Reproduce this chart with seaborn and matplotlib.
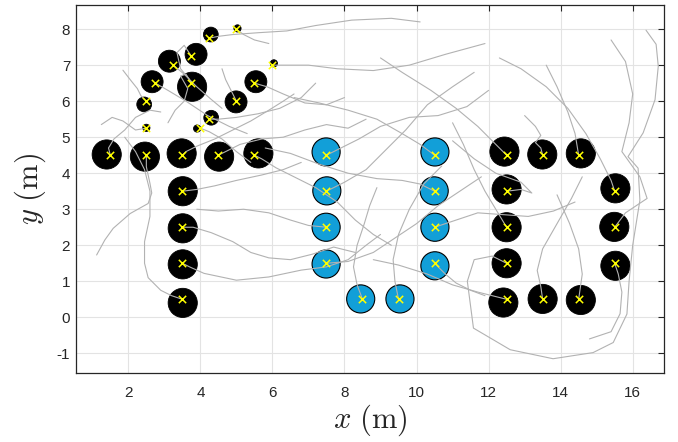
import numpy as np
import pandas as pd
import seaborn as sns
import matplotlib.pyplot as plt

# targets (yellow crosses)
target_x = [1.5, 2.5, 3.5, 4.5, 5.5, 3.5, 3.5, 3.5, 3.5,
            4.25, 5.0, 3.75, 3.25, 6.0, 2.75, 3.75, 5.5, 2.5, 5.0, 4.25, 2.5, 4.0,
            7.5, 7.5, 7.5, 7.5, 8.5, 9.5, 10.5, 10.5, 10.5, 10.5,
            12.5, 13.5, 14.5, 12.5, 15.5, 12.5, 15.5, 12.5, 15.5, 12.5, 13.5, 14.5]
target_y = [4.5, 4.5, 4.5, 4.5, 4.5, 3.5, 2.5, 1.5, 0.5,
            7.75, 8.0, 7.25, 7.0, 7.0, 6.5, 6.5, 6.5, 6.0, 6.0, 5.5, 5.25, 5.25,
            4.5, 3.5, 2.5, 1.5, 0.5, 0.5, 4.5, 3.5, 2.5, 1.5,
            4.5, 4.5, 4.5, 3.5, 3.5, 2.5, 2.5, 1.5, 1.5, 0.5, 0.5, 0.5]

# agents (circles): position, diameter in metres, group
agent_x = [1.40, 2.46, 3.48, 4.52, 5.61, 3.51, 3.51, 3.51, 3.51,
           4.29, 5.03, 3.88, 3.14, 6.04, 2.66, 3.77, 5.54, 2.44, 4.99, 4.30, 2.50, 3.91,
           7.49, 7.51, 7.49, 7.49, 8.45, 9.54, 10.51, 10.49, 10.51, 10.51,
           12.44, 13.49, 14.56, 12.50, 15.52, 12.50, 15.49, 12.50, 15.52, 12.41, 13.50, 14.56]
agent_y = [4.52, 4.46, 4.55, 4.46, 4.55, 3.50, 2.47, 1.47, 0.40,
           7.85, 8.02, 7.30, 7.11, 7.05, 6.54, 6.40, 6.54, 5.91, 5.98, 5.54, 5.26, 5.24,
           4.59, 3.51, 2.50, 1.48, 0.51, 0.51, 4.59, 3.51, 2.50, 1.43,
           4.60, 4.52, 4.55, 3.55, 3.58, 2.50, 2.51, 1.50, 1.43, 0.41, 0.51, 0.48]
agent_d = [0.81] * 9 + [0.41, 0.20, 0.61, 0.61, 0.20, 0.61, 0.81, 0.61, 0.41, 0.61, 0.41, 0.20, 0.20] \
          + [0.78] * 10 + [0.81] * 12
agent_group = ["black"] * 22 + ["blue"] * 10 + ["black"] * 12

# trajectories (gray lines), each ends at its target
trajectories = [
    [(2.9, 5.7), (2.6, 5.75), (2.2, 5.55), (1.9, 5.2), (1.6, 4.95), (1.45, 4.7), (1.5, 4.5)],
    [(1.12, 1.73), (1.35, 2.15), (1.58, 2.47), (2.05, 2.88), (2.55, 3.16), (2.65, 3.45),
     (2.6, 3.72), (2.5, 4.18), (2.5, 4.5)],
    [(6.6, 6.2), (6.3, 6.0), (5.9, 5.75), (5.4, 5.45), (4.9, 5.2), (4.4, 4.95), (3.9, 4.75),
     (3.6, 4.6), (3.5, 4.5)],
    [(8.6, 5.5), (8.1, 5.25), (7.5, 5.35), (6.9, 5.2), (6.3, 5.0), (5.7, 4.95), (5.1, 4.8),
     (4.7, 4.6), (4.5, 4.5)],
    [(9.3, 2.0), (8.8, 2.3), (8.3, 2.7), (7.8, 3.2), (7.2, 3.6), (6.6, 3.9), (6.1, 4.15),
     (5.7, 4.4), (5.5, 4.5)],
    [(6.8, 4.3), (6.3, 4.1), (5.7, 3.95), (5.0, 3.8), (4.4, 3.65), (3.9, 3.55), (3.5, 3.5)],
    [(8.3, 1.8), (7.7, 1.95), (7.1, 1.75), (6.5, 1.6), (5.9, 1.65), (5.4, 1.8), (4.9, 2.1),
     (4.3, 2.35), (3.8, 2.5), (3.5, 2.5)],
    [(9.0, 2.3), (8.6, 2.0), (8.1, 1.6), (7.5, 1.4), (6.8, 1.31), (5.9, 1.12), (5.0, 1.03),
     (4.1, 1.22), (3.7, 1.4), (3.5, 1.5)],
    [(1.9, 5.0), (2.2, 4.6), (2.45, 4.1), (2.6, 3.5), (2.6, 2.8), (2.45, 2.1), (2.45, 1.5),
     (2.55, 1.1), (2.9, 0.75), (3.2, 0.6), (3.5, 0.5)],
    [(10.1, 8.2), (9.3, 8.3), (8.2, 8.25), (7.2, 8.1), (6.4, 7.95), (5.6, 7.9), (4.9, 7.85),
     (4.5, 7.8), (4.25, 7.75)],
    [(5.9, 7.6), (5.5, 7.7), (5.2, 7.85), (5.0, 8.0)],
    [(3.7, 6.6), (3.45, 6.9), (3.35, 7.35), (3.55, 7.55), (3.75, 7.25)],
    [(4.6, 5.8), (4.3, 6.05), (3.9, 6.4), (3.55, 6.75), (3.25, 7.0)],
    [(11.9, 7.6), (10.8, 7.3), (9.8, 7.0), (8.8, 6.85), (7.8, 6.9), (7.0, 7.0), (6.4, 7.0),
     (6.0, 7.0)],
    [(5.3, 5.1), (4.8, 5.3), (4.2, 5.6), (3.6, 6.0), (3.1, 6.3), (2.75, 6.5)],
    [(3.1, 5.4), (3.3, 5.75), (3.55, 6.0), (3.65, 6.35), (3.45, 6.7), (3.6, 6.75), (3.75, 6.5)],
    [(8.0, 6.1), (7.5, 5.9), (6.9, 5.95), (6.3, 6.2), (5.85, 6.4), (5.5, 6.5)],
    [(1.85, 6.86), (2.05, 6.6), (2.25, 6.35), (2.35, 6.15), (2.5, 6.0)],
    [(4.6, 6.9), (4.7, 6.6), (4.85, 6.3), (5.0, 6.0)],
    [(7.2, 6.5), (6.8, 6.1), (6.2, 5.8), (5.6, 5.65), (5.0, 5.55), (4.5, 5.5), (4.25, 5.5)],
    [(1.25, 5.35), (1.55, 5.55), (1.85, 5.45), (2.2, 5.2), (2.5, 5.25)],
    [(5.4, 4.3), (5.0, 4.6), (4.6, 4.95), (4.25, 5.15), (4.0, 5.25)],
    [(12.0, 6.3), (11.4, 5.85), (10.6, 5.6), (9.8, 5.55), (9.0, 5.3), (8.4, 4.95), (7.9, 4.7),
     (7.5, 4.5)],
    [(11.6, 6.8), (11.0, 6.4), (10.3, 5.9), (9.7, 5.2), (9.1, 4.6), (8.6, 4.1), (8.0, 3.75),
     (7.5, 3.5)],
    [(3.9, 3.0), (4.5, 2.95), (5.2, 3.0), (5.9, 2.9), (6.5, 2.7), (7.0, 2.55), (7.5, 2.5)],
    [(11.8, 3.9), (11.2, 3.5), (10.6, 3.1), (10.0, 2.6), (9.4, 2.2), (8.8, 1.8), (8.1, 1.55),
     (7.5, 1.5)],
    [(8.9, 3.6), (8.7, 3.1), (8.55, 2.6), (8.35, 2.0), (8.25, 1.4), (8.35, 0.9), (8.5, 0.5)],
    [(10.7, 4.2), (10.2, 3.7), (9.8, 3.0), (9.5, 2.3), (9.35, 1.6), (9.4, 1.0), (9.5, 0.5)],
    [(6.6, 6.1), (7.3, 5.95), (8.1, 5.75), (8.9, 5.5), (9.6, 5.1), (10.1, 4.8), (10.5, 4.5)],
    [(5.8, 4.7), (6.5, 4.55), (7.3, 4.25), (8.1, 4.0), (8.9, 3.85), (9.6, 3.8), (10.1, 3.7),
     (10.5, 3.5)],
    [(14.4, 3.2), (13.8, 2.95), (13.1, 2.8), (12.4, 2.85), (11.7, 2.9), (11.1, 2.7), (10.5, 2.5)],
    [(11.9, 0.6), (11.5, 0.75), (11.1, 0.95), (10.8, 1.2), (10.5, 1.5)],
    [(9.0, 7.2), (9.6, 6.8), (10.4, 6.3), (11.1, 5.8), (11.7, 5.3), (12.2, 4.8), (12.5, 4.5)],
    [(13.0, 5.6), (13.3, 5.3), (13.45, 5.05), (13.3, 4.85), (13.45, 4.7), (13.5, 4.5)],
    [(13.6, 7.0), (13.9, 6.4), (14.2, 5.7), (14.4, 5.1), (14.5, 4.5)],
    [(11.0, 4.9), (11.6, 4.4), (12.2, 4.0), (12.9, 3.75), (13.2, 3.45), (12.9, 3.55), (12.5, 3.5)],
    [(12.3, 7.2), (12.9, 6.9), (13.6, 6.4), (14.2, 5.8), (14.7, 5.1), (15.1, 4.4), (15.4, 3.8),
     (15.5, 3.5)],
    [(11.0, 5.4), (11.3, 4.8), (11.6, 4.1), (11.9, 3.5), (12.2, 3.0), (12.5, 2.5)],
    [(15.4, 7.7), (15.8, 7.1), (16.0, 6.2), (15.9, 5.4), (15.7, 4.6), (16.2, 3.9), (16.4, 3.3),
     (15.8, 2.9), (15.5, 2.5)],
    [(16.37, 7.97), (16.65, 7.58), (16.71, 6.97), (16.62, 6.04), (16.29, 5.12), (15.87, 4.46),
     (16.15, 4.14), (16.2, 3.25), (16.0, 2.0), (15.9, 1.0), (15.84, 0.09), (15.46, -0.7),
     (14.9, -0.98), (13.79, -1.15), (12.6, -0.9), (11.58, -0.3), (11.41, 1.0), (11.6, 1.6),
     (12.1, 1.7), (12.5, 1.5)],
    [(14.8, -0.6), (15.4, -0.4), (15.65, 0.1), (15.7, 0.7), (15.6, 1.2), (15.5, 1.5)],
    [(8.8, 1.6), (9.5, 1.45), (10.3, 1.2), (11.0, 0.9), (11.7, 0.7), (12.1, 0.6), (12.5, 0.5)],
    [(14.6, 3.9), (14.3, 3.3), (13.9, 2.6), (13.5, 1.9), (13.35, 1.3), (13.45, 0.85), (13.5, 0.5)],
    [(13.9, 3.4), (14.25, 2.6), (14.5, 1.9), (14.6, 1.2), (14.5, 0.5)],
]

rows = []
for i, tr in enumerate(trajectories):
    for j, (px, py) in enumerate(tr):
        rows.append({"traj": i, "step": j, "x": px, "y": py})
traj_df = pd.DataFrame(rows)

agents = pd.DataFrame({"x": agent_x, "y": agent_y, "d": agent_d, "group": agent_group})
targets = pd.DataFrame({"x": target_x, "y": target_y})

sns.set_style("whitegrid")
plt.rcParams["font.family"] = ["Liberation Sans", "DejaVu Sans"]
plt.rcParams["mathtext.fontset"] = "cm"
plt.rcParams["axes.unicode_minus"] = False

fig = plt.figure(figsize=(6.78, 4.42), dpi=100)
ax = fig.add_axes([0.1117, 0.1554, 0.8677, 0.8333])
ax.set_xlim(0.54, 16.87)
ax.set_ylim(-1.555, 8.67)

# circle size from the data scale: points per metre
p0 = ax.transData.transform((0, 0))
p1 = ax.transData.transform((1, 0))
pt_per_m = (p1[0] - p0[0]) * 72 / fig.dpi
agents["s"] = (agents["d"] * pt_per_m) ** 2

blk = agents[agents["group"] == "black"]
blu = agents[agents["group"] == "blue"]
sns.scatterplot(data=blk, x="x", y="y", s=blk["s"].values, color="black",
                edgecolor="black", linewidth=0.6, ax=ax, zorder=2, legend=False)
sns.scatterplot(data=blu, x="x", y="y", s=blu["s"].values, color="#129fd8",
                edgecolor="black", linewidth=0.8, ax=ax, zorder=2, legend=False)

sns.lineplot(data=traj_df, x="x", y="y", units="traj", estimator=None, sort=False,
             color="#b2b2b2", linewidth=0.8, ax=ax, zorder=3, legend=False)

sns.scatterplot(data=targets, x="x", y="y", marker="x", s=28, color="#ffff00",
                linewidth=1.1, ax=ax, zorder=4, legend=False)

ax.set_xticks([2, 4, 6, 8, 10, 12, 14, 16])
ax.set_yticks([-1, 0, 1, 2, 3, 4, 5, 6, 7, 8])
ax.grid(True, color="#e3e3e3", linewidth=0.8)
ax.set_axisbelow(True)
for sp in ax.spines.values():
    sp.set_color("#262626")
    sp.set_linewidth(0.9)
ax.tick_params(direction="in", length=4, width=0.8, color="#262626",
               top=True, right=True, labelsize=11, labelcolor="#262626")
ax.tick_params(axis="x", pad=9)
ax.tick_params(axis="y", pad=4)
ax.set_xlabel(r"$x\ (\mathrm{m})$", fontsize=22, labelpad=2)
ax.set_ylabel(r"$y\ (\mathrm{m})$", fontsize=22, labelpad=6)

fig.savefig("out.png", dpi=100)
